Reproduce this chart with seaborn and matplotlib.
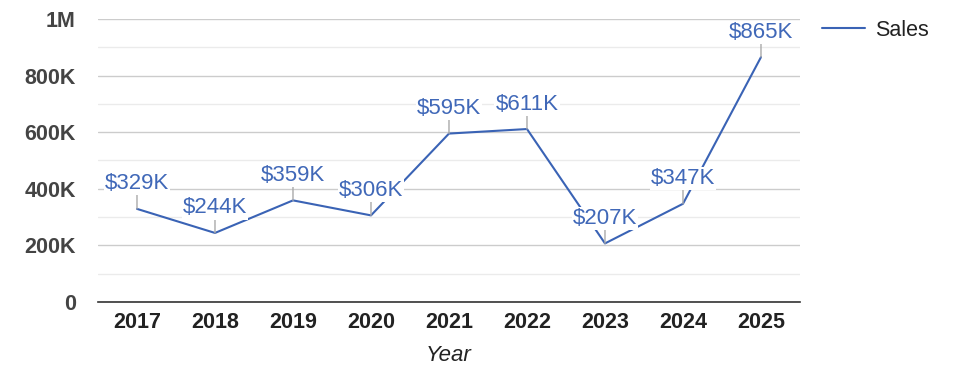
import matplotlib
matplotlib.use("Agg")
import matplotlib.pyplot as plt
import pandas as pd
import seaborn as sns
from matplotlib.ticker import FuncFormatter, MultipleLocator

years = ["2017", "2018", "2019", "2020", "2021", "2022", "2023", "2024", "2025"]
sales = [329000, 244000, 359000, 306000, 595000, 611000, 207000, 347000, 865000]
labels = ["$329K", "$244K", "$359K", "$306K", "$595K", "$611K", "$207K", "$347K", "$865K"]

df = pd.DataFrame({"Year": years, "Sales": sales})

sns.set_theme(style="white")
plt.rcParams["font.family"] = ["Liberation Sans", "DejaVu Sans"]

line_color = "#3a63b5"
fig = plt.figure(figsize=(9.75, 3.78), dpi=100)
ax = fig.add_axes([0.1005, 0.201, 0.72, 0.749])

sns.lineplot(data=df, x="Year", y="Sales", ax=ax, color=line_color,
             linewidth=1.5, label="Sales", sort=False)

ax.set_xlim(-0.5, len(years) - 0.5)
ax.set_ylim(0, 1000000)
ax.yaxis.set_major_locator(MultipleLocator(200000))
ax.yaxis.set_minor_locator(MultipleLocator(100000))


def fmt(v, pos):
    if v == 0:
        return "0"
    if v >= 1000000:
        return f"{v / 1000000:g}M"
    return f"{v / 1000:g}K"


ax.yaxis.set_major_formatter(FuncFormatter(fmt))
ax.grid(True, which="major", axis="y", color="#cccccc", linewidth=1)
ax.grid(True, which="minor", axis="y", color="#ebebeb", linewidth=1)
ax.set_axisbelow(True)
for s in ["top", "right", "left"]:
    ax.spines[s].set_visible(False)
ax.spines["bottom"].set_color("#333333")
ax.spines["bottom"].set_linewidth(1.2)
ax.tick_params(axis="both", which="both", length=0)
ax.tick_params(axis="y", pad=16)
ax.tick_params(axis="x", pad=7)
for t in ax.get_yticklabels():
    t.set_fontweight("bold")
    t.set_fontsize(15.5)
    t.set_color("#444444")
for t in ax.get_xticklabels():
    t.set_fontweight("bold")
    t.set_fontsize(15.5)
    t.set_color("#222222")
ax.set_ylabel("")
ax.set_xlabel("Year", fontsize=16, fontstyle="italic", color="#222222", labelpad=9)

for i, (v, lab) in enumerate(zip(sales, labels)):
    ax.annotate("", xy=(i, v), xytext=(0, 13), textcoords="offset points",
                xycoords="data",
                arrowprops=dict(arrowstyle="-", color="#aaaaaa", lw=1,
                                shrinkA=0, shrinkB=0))
    ax.annotate(lab, xy=(i, v), xytext=(0, 18), textcoords="offset points",
                ha="center", va="center", fontsize=16, color="#4068b8",
                bbox=dict(boxstyle="square,pad=0.05", fc="white", ec="none"))

leg = ax.legend(loc="upper left", bbox_to_anchor=(1.004, 1.065), frameon=False,
                fontsize=15.5, handlelength=2.0, handletextpad=0.45)
for t in leg.get_texts():
    t.set_color("#222222")

fig.savefig("out.png", dpi=100)
